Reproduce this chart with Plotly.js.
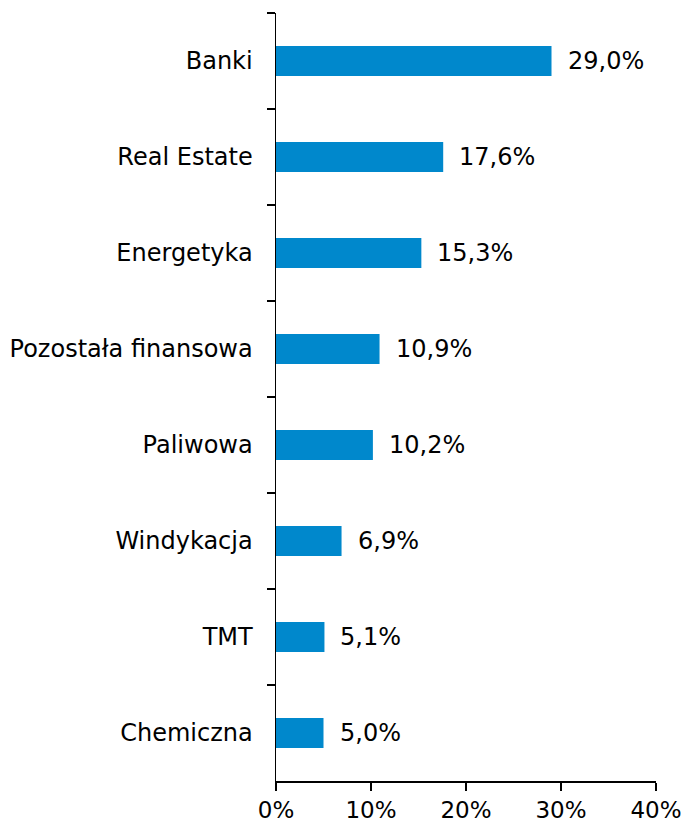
<!DOCTYPE html>
<html>
<head>
<meta charset="utf-8">
<script src="https://cdn.plot.ly/plotly-3.0.1.min.js"></script>
<style>html,body{margin:0;padding:0;background:#fff;}#chart{width:684px;height:823px;}</style>
</head>
<body>
<div id="chart"></div>
<script>
const categories = ["Banki", "Real Estate", "Energetyka", "Pozostała finansowa", "Paliwowa", "Windykacja", "TMT", "Chemiczna"];
const values = [29.0, 17.6, 15.3, 10.9, 10.2, 6.9, 5.1, 5.0];
const xTickVals = [0, 10, 20, 30, 40];
const xTickText = ["0%", "10%", "20%", "30%", "40%"];

const FONT = "DejaVu Sans, Verdana, sans-serif";
const trace = {
  type: "bar",
  orientation: "h",
  x: values,
  y: categories,
  width: 0.31,
  marker: {color: "#0088cc"},
  hoverinfo: "none"
};
const annotations = values.map((v, i) => ({
  x: v, y: categories[i], xref: "x", yref: "y",
  text: v.toFixed(1).replace(".", ",") + "%",
  showarrow: false, xanchor: "left", yanchor: "middle", xshift: 14,
  font: {family: FONT, size: 24, color: "#000"}
}));
const layout = {
  width: 684, height: 823,
  margin: {l: 276, r: 28, t: 13, b: 42},
  paper_bgcolor: "#fff", plot_bgcolor: "#fff",
  showlegend: false,
  font: {family: FONT, size: 22, color: "#000"},
  xaxis: {
    range: [0, 40], tickvals: xTickVals, ticktext: xTickText,
    showgrid: false, zeroline: false, showline: true, linecolor: "#000", linewidth: 1.5,
    ticks: "outside", ticklen: 8, tickcolor: "#000", tickwidth: 1.5,
    tickfont: {family: FONT, size: 23, color: "#000"}, fixedrange: true
  },
  yaxis: {
    type: "category", range: [7.5, -0.5],
    showgrid: false, zeroline: false, showline: true, linecolor: "#000", linewidth: 1.5,
    ticks: "outside", tickson: "boundaries", ticklen: 8, tickcolor: "#000", tickwidth: 1.5,
    tickfont: {family: FONT, size: 24, color: "#000"}, ticklabelstandoff: 17, fixedrange: true
  },
  annotations: annotations
};
Plotly.newPlot("chart", [trace], layout, {staticPlot: true, displayModeBar: false});
</script>
</body>
</html>
